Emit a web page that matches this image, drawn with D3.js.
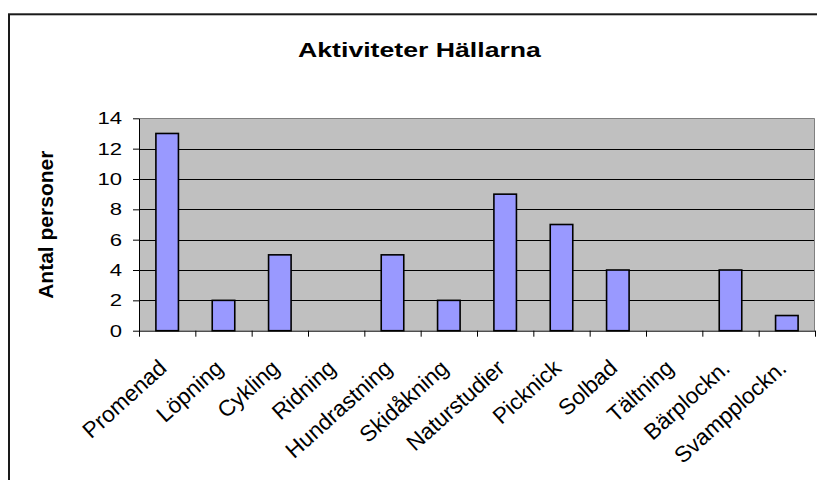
<!DOCTYPE html>
<html>
<head>
<meta charset="utf-8">
<script src="https://cdn.jsdelivr.net/npm/d3@7"></script>
<style>
  html, body { margin: 0; padding: 0; background: #fff; }
  svg { display: block; }
  text { font-family: "Liberation Sans", Arial, sans-serif; fill: #000; }
</style>
</head>
<body>
<svg id="chart" width="817" height="480"></svg>
<script>
// ---- data ----
const categories = ["Promenad", "Löpning", "Cykling", "Ridning", "Hundrastning", "Skidåkning",
                    "Naturstudier", "Picknick", "Solbad", "Tältning", "Bärplockn.", "Svampplockn."];
const values = [13, 2, 5, 0, 5, 2, 9, 7, 4, 0, 4, 1];
const yTicks = [0, 2, 4, 6, 8, 10, 12, 14];
const chartTitle = "Aktiviteter Hällarna";
const yTitle = "Antal personer";

// ---- layout ----
const W = 817, H = 480;
const plot = { left: 139, right: 815, top: 118.3, bottom: 330.7 };

const svg = d3.select("#chart");

// outer chart border
svg.append("rect")
  .attr("x", 9).attr("y", 14.3)
  .attr("width", W + 20).attr("height", H + 20)
  .attr("fill", "#fff").attr("stroke", "#1a1a1a").attr("stroke-width", 2);

// scales
const x = d3.scaleBand().domain(categories).range([plot.left, plot.right])
  .paddingInner(0.6).paddingOuter(0.3);
const xb = d3.scaleLinear().domain([0, categories.length]).range([plot.left, plot.right]);
const y = d3.scaleLinear().domain([0, 14]).range([plot.bottom, plot.top]);

// plot background
svg.append("rect")
  .attr("x", plot.left).attr("y", plot.top)
  .attr("width", plot.right - plot.left).attr("height", plot.bottom - plot.top)
  .attr("fill", "#C0C0C0");

// gridlines
svg.append("g")
  .selectAll("line")
  .data(yTicks.filter(t => t > 0 && t < 14))
  .join("line")
  .attr("x1", plot.left).attr("x2", plot.right)
  .attr("y1", d => Math.round(y(d)) + 0.5).attr("y2", d => Math.round(y(d)) + 0.5)
  .attr("stroke", "#000").attr("stroke-width", 1);

// plot border (top/right)
svg.append("path")
  .attr("d", `M${plot.left},${Math.round(plot.top)+0.5}H${plot.right-0.5}V${plot.bottom}`)
  .attr("fill", "none").attr("stroke", "#808080").attr("stroke-width", 1);

// bars
svg.append("g")
  .selectAll("rect")
  .data(values)
  .join("rect")
  .attr("x", (d, i) => x(categories[i]))
  .attr("y", d => y(d))
  .attr("width", x.bandwidth())
  .attr("height", d => y(0) - y(d))
  .attr("fill", "#9999FF")
  .attr("stroke", "#000")
  .attr("stroke-width", 1.6);

// y axis
const yAxis = svg.append("g")
  .attr("transform", `translate(${plot.left},0)`)
  .call(d3.axisLeft(y).tickValues(yTicks).tickSize(6).tickPadding(7.1).tickSizeOuter(0));
yAxis.select(".domain").attr("stroke", "#000");
yAxis.selectAll(".tick line").attr("stroke", "#000");
yAxis.selectAll(".tick text")
  .attr("font-size", 17).attr("font-family", "Liberation Sans, Arial, sans-serif")
  .attr("fill", "#000")
  .attr("transform", "scale(1.3,1)");

// x axis (ticks at category boundaries)
const xAxis = svg.append("g")
  .attr("transform", `translate(0,${plot.bottom})`)
  .call(d3.axisBottom(xb).tickValues(d3.range(categories.length + 1))
    .tickSize(6).tickSizeOuter(0).tickFormat(""));
xAxis.select(".domain").attr("stroke", "#000");
xAxis.selectAll(".tick line").attr("stroke", "#000");

// x category labels
svg.append("g")
  .selectAll("text")
  .data(categories)
  .join("text")
  .attr("transform", d => `translate(${x(d) + x.bandwidth() / 2 + 1},370) rotate(-42)`)
  .attr("text-anchor", "end")
  .attr("font-size", 22.5)
  .text(d => d);

// title
const t = svg.append("text")
  .attr("x", 419.5).attr("y", 57.3)
  .attr("text-anchor", "middle")
  .attr("font-size", 21).attr("font-weight", "bold")
  .text(chartTitle);
const natural = t.node().getComputedTextLength();
t.attr("transform", `translate(419.5,0) scale(${243 / natural},1) translate(-419.5,0)`);

// y axis title
svg.append("text")
  .attr("transform", "translate(53.3,224.7) rotate(-90)")
  .attr("text-anchor", "middle")
  .attr("font-size", 21).attr("font-weight", "bold")
  .text(yTitle);
</script>
</body>
</html>
